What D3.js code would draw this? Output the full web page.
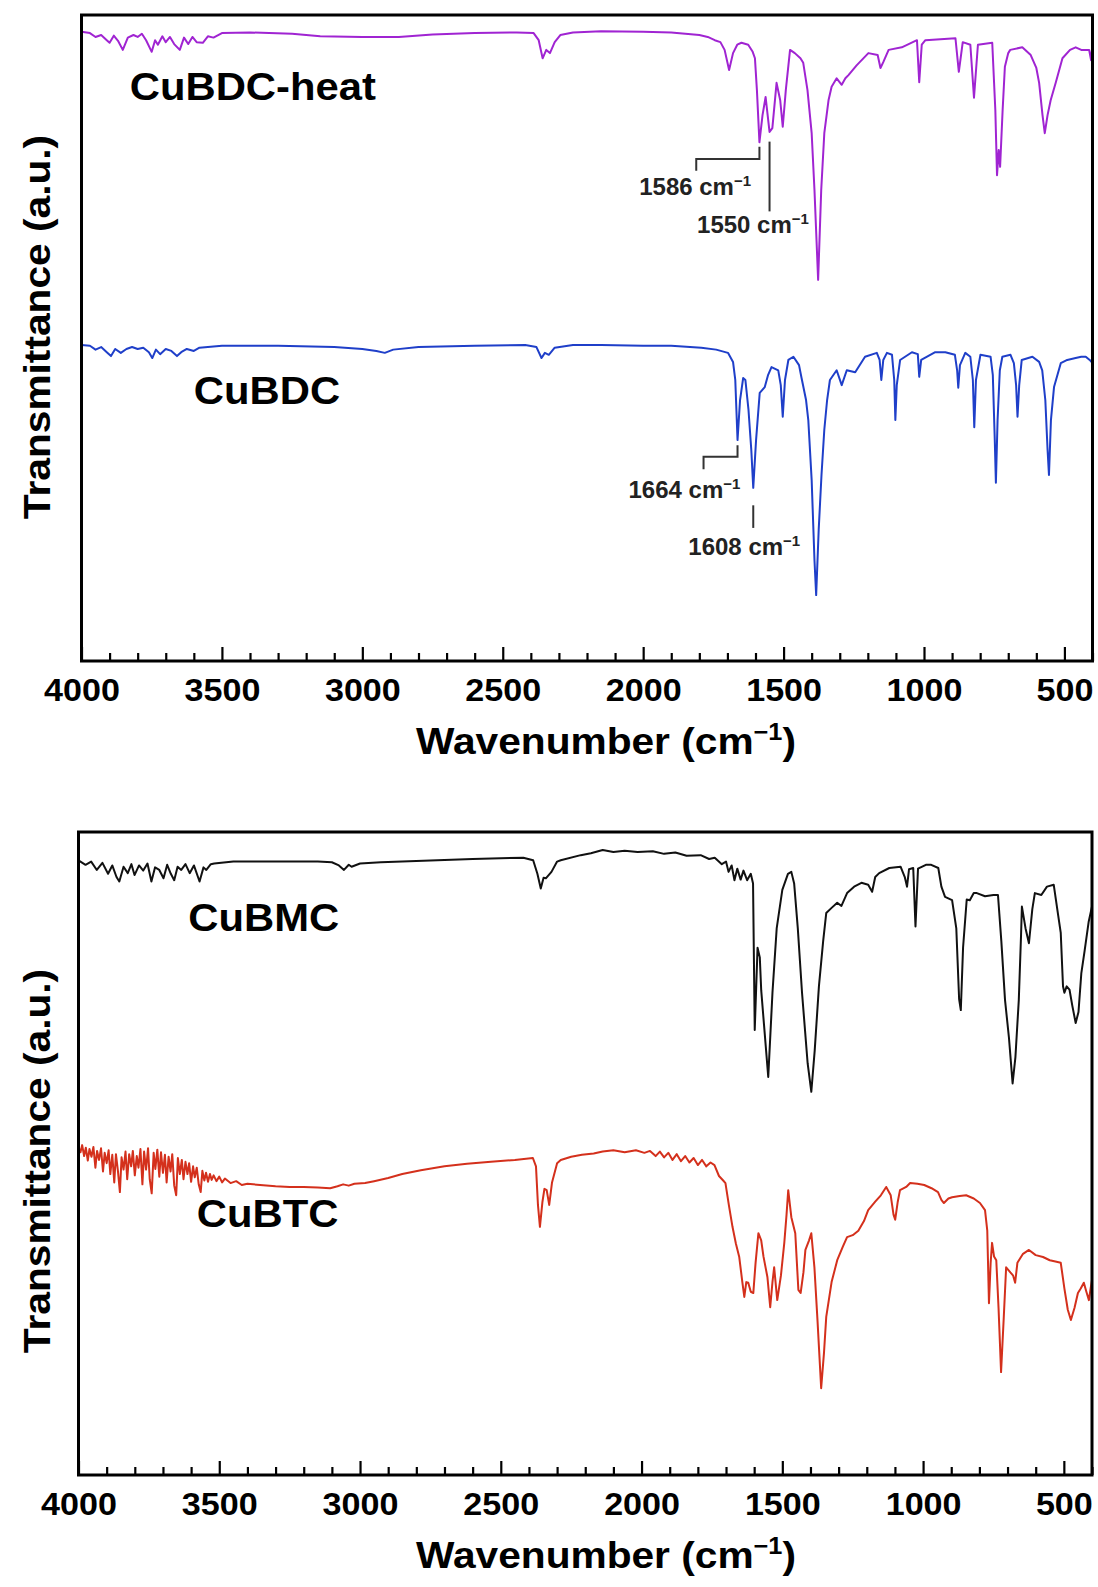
<!DOCTYPE html>
<html>
<head>
<meta charset="utf-8">
<script src="https://cdn.jsdelivr.net/npm/d3@7"></script>
<style>
  html, body { margin: 0; padding: 0; background: #fff; }
  svg { display: block; }
  text { font-family: "Liberation Sans", Arial, Helvetica, sans-serif; font-weight: bold; }
</style>
</head>
<body>
<svg id="chart" width="1098" height="1587"></svg>
<script>
// ---------------- DATA (wavenumber cm^-1, transmittance a.u. 0-100 within each panel) ----------------
const tickLabels = ["4000", "3500", "3000", "2500", "2000", "1500", "1000", "500"];
const xDomain = [4000, 400];

const cuBDCheat = [
  [4000,97.4],[3970,97.2],[3950,96.6],[3930,96.9],[3910,96.1],[3900,95.7],[3885,96.8],[3870,96.0],
  [3853,94.6],[3835,96.5],[3815,96.9],[3800,96.6],[3785,97.1],[3770,96.1],[3750,94.3],[3738,96.1],
  [3728,95.4],[3712,96.7],[3700,95.8],[3685,96.6],[3670,95.5],[3650,94.6],[3635,96.5],[3620,95.5],
  [3605,96.6],[3590,95.8],[3568,95.7],[3550,96.7],[3530,96.5],[3500,97.2],[3400,97.3],[3250,97.1],
  [3150,96.7],[3000,96.6],[2870,96.6],[2750,97.0],[2600,97.2],[2450,97.3],[2390,97.2],[2372,96.1],
  [2358,93.3],[2345,94.6],[2332,94.1],[2315,95.8],[2295,96.9],[2250,97.3],[2150,97.5],[2000,97.4],
  [1900,97.3],[1850,97.1],[1800,96.9],[1770,96.6],[1745,96.1],[1725,95.8],[1710,94.6],[1694,91.5],
  [1680,94.1],[1665,95.4],[1650,95.7],[1626,95.4],[1610,94.3],[1602,93.3],[1595,88.4],[1586,80.3],
  [1575,84.5],[1564,87.3],[1550,81.9],[1540,82.5],[1525,89.5],[1512,86.8],[1503,82.7],[1492,88.4],
  [1477,94.6],[1460,94.1],[1440,93.3],[1430,92.6],[1415,88.4],[1400,81.7],[1390,72.9],[1377,59.0],
  [1366,72.9],[1355,81.7],[1340,86.8],[1329,88.9],[1311,90.2],[1293,89.2],[1280,90.2],[1269,90.7],
  [1240,92.2],[1198,94.1],[1165,93.8],[1155,91.8],[1145,92.7],[1126,94.6],[1079,95.0],[1025,96.1],
  [1017,89.6],[1008,95.4],[995,96.1],[888,96.4],[876,91.2],[862,95.8],[835,95.4],[822,87.2],
  [808,95.4],[757,95.7],[746,85.3],[740,75.2],[734,79.1],[729,76.5],[720,85.3],[712,92.0],
  [700,94.1],[693,94.6],[650,95.0],[620,93.8],[600,91.8],[590,89.5],[578,84.5],[570,81.7],
  [560,84.5],[549,86.8],[531,89.5],[507,93.3],[480,94.6],[460,95.0],[440,94.6],[412,94.6],
  [405,93.0],[400,95.7]
];

const cuBDC = [
  [4000,48.9],[3970,48.8],[3950,48.2],[3930,48.6],[3910,47.8],[3895,47.2],[3880,48.3],[3860,47.7],
  [3840,48.3],[3820,48.6],[3800,48.3],[3780,48.5],[3760,47.8],[3748,46.9],[3735,48.2],[3720,47.5],
  [3700,48.3],[3680,48.0],[3660,47.2],[3645,47.8],[3625,48.3],[3600,48.0],[3580,48.5],[3550,48.6],
  [3500,48.8],[3300,48.8],[3100,48.6],[3000,48.3],[2950,48.0],[2920,47.7],[2890,48.2],[2800,48.6],
  [2600,48.8],[2420,48.9],[2380,48.6],[2362,46.9],[2350,47.7],[2336,47.4],[2315,48.5],[2250,48.9],
  [2150,48.9],[2000,48.8],[1900,48.8],[1793,48.5],[1740,48.2],[1698,47.7],[1680,46.3],[1672,43.5],
  [1664,34.2],[1655,40.4],[1644,43.8],[1636,43.5],[1625,38.9],[1615,32.7],[1608,26.8],[1598,34.2],
  [1585,41.5],[1567,42.4],[1555,44.3],[1543,45.5],[1519,45.0],[1510,42.7],[1503,37.8],[1495,43.5],
  [1483,46.6],[1465,47.1],[1445,45.8],[1436,43.8],[1420,40.4],[1412,37.3],[1400,28.0],[1390,15.6],
  [1384,10.2],[1375,20.3],[1365,28.8],[1355,35.8],[1345,40.4],[1335,43.5],[1311,45.0],[1293,42.7],
  [1275,45.0],[1245,44.7],[1210,47.1],[1168,47.7],[1158,46.6],[1152,43.5],[1145,46.6],[1132,47.7],
  [1114,47.4],[1106,43.5],[1102,37.3],[1097,42.7],[1085,46.6],[1043,47.8],[1022,47.5],[1017,44.0],
  [1010,46.6],[989,47.1],[960,47.8],[924,47.8],[890,47.4],[882,45.0],[878,42.3],[872,45.8],
  [853,47.7],[835,47.1],[826,43.5],[821,36.2],[815,43.5],[799,47.4],[763,47.1],[755,44.3],
  [748,34.2],[744,27.6],[738,37.3],[730,45.0],[721,47.1],[692,47.4],[680,46.1],[672,42.7],
  [667,37.8],[661,42.7],[652,46.6],[614,47.1],[590,46.3],[579,45.0],[568,40.4],[560,32.7],
  [555,28.8],[548,37.3],[537,42.4],[513,46.1],[490,46.6],[460,46.9],[440,47.1],[424,47.1],
  [410,46.6],[400,46.1]
];

const cuBMC = [
  [4000,95.6],[3975,94.9],[3955,95.4],[3935,94.1],[3915,95.2],[3895,93.5],[3880,94.8],[3865,93.0],
  [3855,92.3],[3840,94.6],[3825,93.6],[3812,95.0],[3801,93.3],[3785,94.8],[3770,94.0],[3755,95.1],
  [3741,92.3],[3728,94.5],[3713,94.1],[3698,92.8],[3685,94.9],[3672,93.5],[3660,92.5],[3648,94.6],
  [3635,94.1],[3620,95.0],[3605,93.6],[3590,94.8],[3570,92.3],[3556,94.5],[3546,94.1],[3530,95.0],
  [3518,95.1],[3450,95.4],[3300,95.4],[3150,95.4],[3100,95.3],[3075,94.8],[3057,94.1],[3040,94.9],
  [3030,94.6],[3000,95.1],[2926,95.3],[2800,95.5],[2600,95.8],[2420,96.0],[2385,95.6],[2370,93.5],
  [2358,91.2],[2348,92.9],[2340,92.8],[2320,93.8],[2300,95.4],[2287,95.6],[2216,96.4],[2180,96.7],
  [2138,97.2],[2100,96.9],[2060,97.1],[2014,96.9],[1960,97.0],[1920,96.6],[1880,96.8],[1840,96.3],
  [1790,96.4],[1760,95.8],[1740,96.0],[1715,95.0],[1700,95.4],[1691,93.8],[1680,94.8],[1670,92.5],
  [1660,94.3],[1648,92.6],[1638,94.0],[1625,92.5],[1612,93.5],[1604,92.0],[1598,69.2],[1588,82.0],
  [1580,80.5],[1575,75.4],[1565,70.0],[1550,61.9],[1535,75.0],[1520,85.0],[1500,91.0],[1480,93.5],
  [1468,93.8],[1458,92.0],[1445,85.0],[1430,75.0],[1410,64.0],[1397,59.6],[1385,66.0],[1370,76.0],
  [1355,83.0],[1344,87.4],[1325,88.2],[1305,89.0],[1290,88.5],[1270,90.5],[1245,91.5],[1219,92.1],
  [1195,91.8],[1181,90.7],[1170,93.0],[1156,93.6],[1120,94.4],[1080,94.6],[1065,93.0],[1057,91.5],
  [1050,94.2],[1035,94.4],[1027,85.3],[1018,94.3],[990,94.9],[971,94.9],[946,94.4],[935,91.5],
  [922,89.9],[897,89.4],[882,85.0],[872,74.0],[866,72.3],[858,82.0],[845,89.5],[834,89.4],
  [820,90.5],[809,90.5],[780,90.0],[750,90.2],[734,90.2],[722,83.0],[709,73.9],[695,68.0],
  [682,60.9],[672,65.0],[660,73.9],[652,84.0],[649,88.4],[636,85.0],[624,82.7],[612,88.0],
  [603,90.5],[580,90.2],[560,91.5],[536,91.8],[520,87.0],[511,84.3],[503,76.0],[498,75.0],
  [490,76.0],[480,75.5],[470,73.0],[458,70.3],[448,72.0],[438,78.0],[426,81.6],[412,86.0],
  [400,88.4]
];

const cuBTC = [
  [4000,51.0],[3993,50.2],[3987,51.3],[3980,49.6],[3974,50.9],[3967,48.9],[3961,50.7],[3954,49.5],
  [3947,51.0],[3940,47.8],[3934,50.4],[3927,49.0],[3920,50.8],[3913,47.2],[3907,50.1],[3900,48.5],
  [3893,50.5],[3887,46.8],[3880,49.8],[3873,45.5],[3867,49.9],[3860,47.3],[3853,44.0],[3847,49.4],
  [3840,47.5],[3833,50.3],[3827,46.0],[3820,49.9],[3813,48.0],[3807,50.4],[3800,46.6],[3793,49.6],
  [3787,47.8],[3780,50.7],[3773,45.2],[3767,50.3],[3760,47.5],[3753,50.8],[3747,46.0],[3740,43.8],
  [3733,50.1],[3727,47.6],[3720,50.6],[3713,46.4],[3707,50.2],[3700,47.0],[3693,49.8],[3687,45.5],
  [3680,49.5],[3673,47.2],[3667,49.9],[3660,45.0],[3653,43.5],[3647,49.3],[3640,46.8],[3633,49.0],
  [3627,46.0],[3620,48.7],[3613,46.8],[3607,48.5],[3600,45.6],[3593,48.0],[3587,46.3],[3580,47.8],
  [3573,45.2],[3566,44.0],[3560,47.3],[3553,45.8],[3547,47.0],[3540,45.6],[3533,46.8],[3527,45.9],
  [3520,46.6],[3510,45.7],[3500,46.4],[3490,45.5],[3480,46.1],[3460,45.4],[3440,45.7],[3420,45.1],
  [3400,45.3],[3355,45.1],[3300,44.9],[3250,44.8],[3200,44.8],[3150,44.7],[3106,44.6],[3080,44.9],
  [3060,45.2],[3040,45.0],[3020,45.3],[2982,45.4],[2950,45.7],[2900,46.2],[2850,46.8],[2784,47.4],
  [2700,48.0],[2620,48.4],[2535,48.7],[2450,49.0],[2386,49.3],[2375,48.0],[2368,42.0],[2361,38.6],
  [2352,42.5],[2345,44.5],[2337,44.3],[2328,42.0],[2318,45.5],[2300,48.5],[2287,49.0],[2250,49.5],
  [2212,49.8],[2170,50.0],[2138,50.3],[2100,50.5],[2060,50.2],[2020,50.5],[1990,50.1],[1970,50.4],
  [1950,49.6],[1935,50.3],[1920,49.4],[1905,50.1],[1890,49.0],[1875,49.9],[1860,48.8],[1845,49.6],
  [1830,48.6],[1815,49.3],[1800,48.2],[1785,49.0],[1770,48.0],[1755,48.6],[1741,48.2],[1725,46.5],
  [1710,45.8],[1702,45.4],[1690,42.0],[1677,38.6],[1665,36.0],[1653,33.9],[1642,30.0],[1635,27.7],
  [1628,30.0],[1621,29.9],[1612,28.5],[1603,28.3],[1595,33.0],[1585,37.6],[1575,36.5],[1567,34.0],
  [1553,30.8],[1543,26.1],[1535,30.0],[1529,32.3],[1518,27.2],[1505,31.0],[1493,36.1],[1485,40.5],
  [1479,44.3],[1473,42.0],[1468,40.1],[1454,37.6],[1443,28.8],[1435,28.3],[1425,31.5],[1418,35.0],
  [1405,36.5],[1397,37.6],[1386,32.3],[1375,24.0],[1362,13.5],[1352,19.0],[1344,24.6],[1325,30.0],
  [1305,33.4],[1285,35.5],[1270,37.0],[1250,37.3],[1230,38.0],[1210,39.5],[1195,41.2],[1170,42.5],
  [1150,43.5],[1131,44.8],[1115,43.5],[1105,40.5],[1099,39.7],[1090,42.5],[1082,44.3],[1060,44.8],
  [1046,45.4],[1020,45.3],[996,45.1],[970,44.6],[947,44.0],[935,42.8],[926,42.3],[910,43.0],
  [897,43.2],[870,43.4],[847,43.5],[820,43.0],[798,42.3],[780,41.2],[772,38.0],[766,26.7],
  [760,33.0],[755,36.1],[748,34.0],[740,33.4],[732,26.0],[723,16.0],[714,24.0],[705,32.3],
  [690,31.5],[680,31.0],[673,29.9],[665,33.0],[645,34.4],[624,35.0],[600,34.2],[574,33.9],
  [550,33.4],[530,33.2],[511,33.0],[498,29.0],[486,25.7],[475,24.1],[462,26.0],[450,28.3],
  [440,29.0],[429,29.9],[420,28.5],[411,27.2],[405,29.0],[400,30.3]
];

// series labels: name, wavenumber of left edge, a.u. of baseline
const topSeries = [
  { name: "CuBDC-heat", data: cuBDCheat, color: "#a024d2", labelWn: 3828, labelAu: 86.9 },
  { name: "CuBDC",      data: cuBDC,     color: "#1f3fc9", labelWn: 3600, labelAu: 39.8 }
];
const bottomSeries = [
  { name: "CuBMC", data: cuBMC, color: "#111111", labelWn: 3610, labelAu: 84.6 },
  { name: "CuBTC", data: cuBTC, color: "#d4301c", labelWn: 3580, labelAu: 38.6 }
];

// peak annotations in the top panel
const brackets = [
  { wn: 1586, leftWn: 1811, au: 77.7, downAu: 75.9, upAu: 79.6 },
  { wn: 1664, leftWn: 1785, au: 31.6, downAu: 29.7, upAu: 33.4 }
];
const sticks = [
  { wn: 1550, fromAu: 80.4, toAu: 69.6 },
  { wn: 1608, fromAu: 24.1, toAu: 20.6 }
];
const peakLabels = [
  { num: "1586", wn: 1815, au: 72.1 },
  { num: "1550", wn: 1609, au: 66.3 },
  { num: "1664", wn: 1853, au: 25.2 },
  { num: "1608", wn: 1640, au: 16.4 }
];

// ---------------- DRAWING ----------------
const svg = d3.select("#chart");
svg.append("rect").attr("width", 1098).attr("height", 1587).attr("fill", "#fff");

const SX = 1.1; // horizontal widening of the bold face

function panel(cfg) {
  const g = svg.append("g");
  const x = d3.scaleLinear().domain(xDomain).range([cfg.left, cfg.right]);
  const y = d3.scaleLinear().domain([0, 100]).range([cfg.bottom, cfg.top]);

  const line = d3.line().x(d => x(d[0])).y(d => y(d[1]));
  cfg.series.forEach(s => {
    g.append("path").datum(s.data)
      .attr("fill", "none").attr("stroke", s.color)
      .attr("stroke-width", 2).attr("stroke-linejoin", "round")
      .attr("d", line);
    g.append("text")
      .attr("transform", `translate(${x(s.labelWn)},${y(s.labelAu)}) scale(${SX},1)`)
      .attr("font-size", 38).attr("fill", "#000").text(s.name);
  });

  const ticks = d3.range(4000, 399, -100);
  const axis = d3.axisBottom(x).tickValues(ticks)
    .tickFormat(d => (d % 500 === 0 ? tickLabels[(4000 - d) / 500] : ""))
    .tickSizeOuter(0);
  const ax = g.append("g").attr("transform", `translate(0,${cfg.bottom})`).call(axis);
  ax.select(".domain").remove();
  ax.selectAll(".tick line")
    .attr("y2", d => (d % 500 === 0 ? -14 : -8))
    .attr("stroke", "#000").attr("stroke-width", 2.2);
  ax.selectAll(".tick text")
    .attr("y", null).attr("dy", null)
    .attr("transform", `translate(0,${cfg.tickBase}) scale(${SX},1)`)
    .attr("font-size", 31).attr("font-family", null).attr("fill", "#000");

  g.append("rect")
    .attr("x", cfg.left).attr("y", cfg.top)
    .attr("width", cfg.right - cfg.left).attr("height", cfg.bottom - cfg.top)
    .attr("fill", "none").attr("stroke", "#000").attr("stroke-width", 3);

  const xt = g.append("text")
    .attr("transform", `translate(${cfg.xTitleX},${cfg.xTitleBase}) scale(${SX},1)`)
    .attr("text-anchor", "middle").attr("font-size", 37).attr("fill", "#000");
  xt.append("tspan").text("Wavenumber (cm");
  xt.append("tspan").attr("font-size", 23).attr("dy", -14).text("\u22121");
  xt.append("tspan").attr("dy", 14).text(")");

  g.append("text")
    .attr("transform", `translate(${cfg.yTitleX},${cfg.yTitleY}) rotate(-90) scale(${SX},1)`)
    .attr("text-anchor", "middle").attr("font-size", 37).attr("fill", "#000")
    .text("Transmittance (a.u.)");

  return { g, x, y };
}

const topPanel = panel({
  left: 81.5, right: 1092.5, top: 15, bottom: 661, tickBase: 40,
  series: topSeries, xTitleX: 606, xTitleBase: 754, yTitleX: 50, yTitleY: 327
});
const bottomPanel = panel({
  left: 78.5, right: 1092, top: 832, bottom: 1475, tickBase: 40,
  series: bottomSeries, xTitleX: 606, xTitleBase: 1568, yTitleX: 50, yTitleY: 1161
});

const ann = topPanel.g.append("g").attr("stroke", "#333").attr("stroke-width", 2).attr("fill", "none");
brackets.forEach(b => {
  const pts = [[b.leftWn, b.downAu], [b.leftWn, b.au], [b.wn, b.au], [b.wn, b.upAu]];
  ann.append("path")
    .attr("d", d3.line().x(d => topPanel.x(d[0])).y(d => topPanel.y(d[1]))(pts));
});
sticks.forEach(s => {
  ann.append("line")
    .attr("x1", topPanel.x(s.wn)).attr("x2", topPanel.x(s.wn))
    .attr("y1", topPanel.y(s.fromAu)).attr("y2", topPanel.y(s.toAu));
});
peakLabels.forEach(p => {
  const t = topPanel.g.append("text")
    .attr("x", topPanel.x(p.wn)).attr("y", topPanel.y(p.au))
    .attr("text-anchor", "middle").attr("font-size", 24).attr("fill", "#222");
  t.append("tspan").text(p.num + " cm");
  t.append("tspan").attr("font-size", 15).attr("dy", -9).text("\u22121");
});
</script>
</body>
</html>
